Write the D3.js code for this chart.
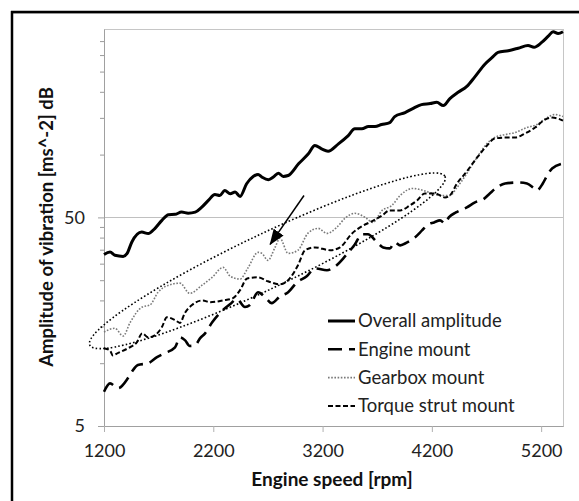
<!DOCTYPE html>
<html>
<head>
<meta charset="utf-8">
<script src="https://cdn.jsdelivr.net/npm/d3@7"></script>
<style>
body { margin: 0; background: #fff; }
svg { display: block; font-family: Lato, "Open Sans", sans-serif; }
</style>
</head>
<body>
<svg width="579" height="501"></svg>
<script>
// [rpm, amplitude]
var overall = [[1200,33.2],[1255,34.1],[1300,32.9],[1375,32.5],[1410,33.5],[1455,38.1],[1545,42.5],[1605,41.8],[1665,44.2],[1730,48.4],[1790,51.5],[1850,51.7],[1910,53.0],[1970,52.4],[2035,53.0],[2095,56.0],[2155,60.3],[2215,64.4],[2260,63.7],[2305,67.3],[2355,64.9],[2400,66.1],[2445,63.0],[2505,72.5],[2565,78.6],[2610,80.3],[2645,78.0],[2705,75.8],[2750,78.0],[2795,81.5],[2840,78.6],[2885,79.4],[2980,90.3],[3070,100.9],[3130,110.6],[3190,106.6],[3250,103.8],[3345,112.6],[3435,123.4],[3495,132.9],[3560,132.9],[3620,136.3],[3680,136.3],[3740,139.3],[3815,142.4],[3860,152.1],[3955,159.0],[4025,166.2],[4105,173.6],[4185,175.6],[4245,178.1],[4305,171.7],[4365,185.5],[4440,198.9],[4520,212.3],[4595,236.4],[4685,271.3],[4750,291.5],[4805,308.9],[4900,314.8],[4990,323.6],[5080,333.4],[5135,327.1],[5205,345.0],[5265,369.4],[5310,388.1],[5355,380.8],[5400,388]];

var engine = [[1200,7.3],[1255,8.0],[1330,7.6],[1420,8.5],[1455,9.1],[1510,9.8],[1605,10.0],[1685,10.7],[1760,11.2],[1850,11.9],[1895,13.3],[1940,12.9],[1985,12.1],[2035,12.2],[2080,13.2],[2125,13.9],[2190,15.7],[2260,17.4],[2355,19.2],[2415,20.3],[2490,18.6],[2535,19.0],[2610,21.9],[2675,20.7],[2735,19.4],[2810,20.9],[2885,21.9],[2965,24.4],[3055,26.1],[3130,28.5],[3240,27.9],[3315,29.1],[3405,32.5],[3495,37.1],[3560,41.5],[3615,41.5],[3690,38.4],[3755,35.9],[3815,35.5],[3860,38.0],[3910,36.7],[3955,37.5],[4045,40.1],[4110,43.3],[4165,46.3],[4220,47.3],[4275,48.4],[4320,46.8],[4355,50.0],[4420,52.8],[4520,55.8],[4595,59.0],[4670,61.0],[4730,65.1],[4795,69.6],[4870,72.7],[4990,73.5],[5070,72.7],[5125,69.6],[5160,67.3],[5215,72.7],[5255,79.4],[5300,85.8],[5400,90.7]];

var gearbox = [[1200,14.1],[1300,14.7],[1375,13.5],[1440,15.7],[1550,18.6],[1620,19.0],[1695,21.9],[1785,23.6],[1895,24.2],[1985,21.6],[2095,23.6],[2190,25.8],[2290,28.8],[2355,26.1],[2445,25.3],[2515,28.5],[2610,34.0],[2645,33.6],[2700,31.1],[2765,35.9],[2810,39.7],[2885,33.6],[2975,34.8],[3065,41.9],[3160,44.3],[3240,41.9],[3330,44.8],[3405,49.5],[3495,52.3],[3590,50.0],[3660,47.3],[3745,54.0],[3835,57.1],[3910,63.7],[4025,68.8],[4090,68.0],[4210,65.1],[4275,63.7],[4365,63.7],[4430,69.6],[4520,81.2],[4595,93.7],[4705,113.0],[4775,120.7],[4870,124.7],[4960,127.5],[5070,134.8],[5160,139.3],[5255,150.4],[5325,155.6],[5400,152.1]];

var torque = [[1200,11.8],[1255,11.5],[1280,10.9],[1330,11.2],[1420,11.8],[1500,12.6],[1550,13.9],[1605,13.3],[1665,13.6],[1730,14.9],[1775,16.6],[1850,16.1],[1895,15.6],[1940,17.4],[2005,19.0],[2105,20.0],[2170,19.6],[2290,20.0],[2380,20.5],[2445,22.4],[2510,25.5],[2610,25.8],[2700,24.7],[2810,23.9],[2900,25.5],[2975,29.5],[3040,34.8],[3130,35.9],[3270,34.8],[3360,35.9],[3470,41.9],[3560,45.3],[3650,47.9],[3745,51.1],[3815,54.0],[3910,54.0],[4000,57.1],[4065,60.3],[4135,65.1],[4230,65.1],[4320,62.3],[4365,63.7],[4430,72.7],[4505,81.2],[4615,96.9],[4705,110.6],[4775,119.4],[4870,120.7],[4960,120.7],[5050,126.1],[5145,134.8],[5235,147.2],[5300,150.4],[5355,148.8],[5400,145.5]];

var seriesNames = ["Overall amplitude", "Engine mount", "Gearbox mount", "Torque strut mount"];
var xTicks = [1200, 2200, 3200, 4200, 5200];
var yTicks = [5, 50];
var yMinor = [10, 15, 20, 25, 30, 35, 40, 45, 100, 150, 200, 250, 300, 350];

// annotation: ends of the dotted ellipse and the arrow, in data units
var ellipseEnds = [[1070, 12.2], [4320, 78.6]];
var arrowEnds = [[3030, 63.7], [2720, 37.1]];

var svg = d3.select("svg"),
    margin = {top: 29, right: 16, bottom: 75, left: 104},
    width = 579 - margin.left - margin.right,
    height = 501 - margin.top - margin.bottom,
    g = svg.append("g").attr("transform", "translate(" + margin.left + "," + margin.top + ")");

// outer frame (only left and top show)
svg.append("line").attr("x1", 12).attr("x2", 579).attr("y1", 13.5).attr("y2", 13.5)
    .attr("stroke", "#c8c8c8").attr("stroke-width", 1);
svg.append("line").attr("x1", 11).attr("x2", 579).attr("y1", 12).attr("y2", 12)
    .attr("stroke", "#000").attr("stroke-width", 2.5);
svg.append("line").attr("x1", 12).attr("x2", 12).attr("y1", 11).attr("y2", 501)
    .attr("stroke", "#000").attr("stroke-width", 2.5);

var x = d3.scaleLinear()
    .domain([1200, 5400])
    .range([0, width]);

var y = d3.scaleLog()
    .domain([5, 400])
    .range([height, 0]);

g.append("rect")
    .attr("x", 0.5).attr("y", 0.5)
    .attr("width", width).attr("height", height)
    .attr("fill", "none")
    .attr("stroke", "#c6c6c6");

g.append("line")
    .attr("x1", 0).attr("x2", width)
    .attr("y1", Math.round(y(50)) + 0.5).attr("y2", Math.round(y(50)) + 0.5)
    .attr("stroke", "#c0c0c0");

var yMinorAxis = g.append("g")
    .call(d3.axisLeft(y).tickValues(yMinor).tickSize(4).tickSizeOuter(0).tickFormat(""));
yMinorAxis.select(".domain").remove();
yMinorAxis.selectAll("line").attr("stroke", "#9a9a9a");

var yAxis = g.append("g")
    .call(d3.axisLeft(y).tickValues(yTicks).tickSize(6).tickSizeOuter(0).tickFormat(d3.format("d")));
yAxis.select(".domain").attr("stroke", "#a0a0a0");
yAxis.selectAll(".tick line").attr("stroke", "#a0a0a0");
yAxis.selectAll("text")
    .attr("x", -19)
    .attr("fill", "#222")
    .style("font-size", "18px")
    .style("font-family", "Lato, sans-serif");

var xAxis = g.append("g")
    .attr("transform", "translate(0," + height + ")")
    .call(d3.axisBottom(x).tickValues(xTicks).tickSize(6).tickSizeOuter(0).tickFormat(d3.format("d")));
xAxis.select(".domain").attr("stroke", "#a0a0a0");
xAxis.selectAll(".tick line").attr("stroke", "#b0b0b0");
xAxis.selectAll("text")
    .attr("y", 18)
    .attr("fill", "#222")
    .style("font-size", "18px")
    .style("font-family", "Lato, sans-serif");

svg.append("text")
    .attr("x", 332)
    .attr("y", 486)
    .attr("text-anchor", "middle")
    .style("font-size", "19px")
    .style("font-weight", "bold")
    .attr("fill", "#111")
    .text("Engine speed [rpm]");

svg.append("text")
    .attr("transform", "translate(53,227) rotate(-90)")
    .attr("text-anchor", "middle")
    .style("font-size", "18.5px")
    .style("font-weight", "bold")
    .attr("fill", "#111")
    .text("Amplitude of vibration [ms^-2] dB");

var line = d3.line()
    .curve(d3.curveMonotoneX)
    .x(function(d) { return x(d[0]); })
    .y(function(d) { return y(d[1]); });

var styles = [
  {data: overall, color: "#000", w: 3, dash: null},
  {data: engine, color: "#000", w: 2.6, dash: "14,7"},
  {data: gearbox, color: "#7a7a7a", w: 1.6, dash: "1.6,1.6"},
  {data: torque, color: "#000", w: 2, dash: "5,2.5"}
];

// back to front, solid line last
[2, 3, 1, 0].forEach(function(i) {
  var s = styles[i];
  g.append("path")
      .datum(s.data)
      .attr("fill", "none")
      .attr("stroke", s.color)
      .attr("stroke-width", s.w)
      .attr("stroke-dasharray", s.dash)
      .attr("stroke-linejoin", "round")
      .attr("d", line);
});

// dotted ellipse
var p0 = [x(ellipseEnds[0][0]), y(ellipseEnds[0][1])],
    p1 = [x(ellipseEnds[1][0]), y(ellipseEnds[1][1])],
    cx = (p0[0] + p1[0]) / 2,
    cy = (p0[1] + p1[1]) / 2,
    rx = Math.hypot(p1[0] - p0[0], p1[1] - p0[1]) / 2,
    ang = Math.atan2(p1[1] - p0[1], p1[0] - p0[0]) * 180 / Math.PI;
g.append("ellipse")
    .attr("transform", "translate(" + cx + "," + cy + ") rotate(" + ang + ")")
    .attr("rx", rx)
    .attr("ry", 27)
    .attr("fill", "none")
    .attr("stroke", "#000")
    .attr("stroke-width", 1.6)
    .attr("stroke-dasharray", "1.6,2.2");

// arrow
svg.append("defs").append("marker")
    .attr("id", "head")
    .attr("markerUnits", "userSpaceOnUse")
    .attr("viewBox", "0 0 16 12")
    .attr("refX", 15).attr("refY", 6)
    .attr("markerWidth", 16).attr("markerHeight", 12)
    .attr("orient", "auto")
  .append("path")
    .attr("d", "M0,0L16,6L0,12Z")
    .attr("fill", "#000");

g.append("line")
    .attr("x1", x(arrowEnds[0][0])).attr("y1", y(arrowEnds[0][1]))
    .attr("x2", x(arrowEnds[1][0])).attr("y2", y(arrowEnds[1][1]))
    .attr("stroke", "#000")
    .attr("stroke-width", 1.5)
    .attr("marker-end", "url(#head)");

// legend
var legend = g.append("g").attr("transform", "translate(224,292)");
seriesNames.forEach(function(name, i) {
  var s = styles[i];
  var row = legend.append("g").attr("transform", "translate(0," + (i * 28.3) + ")");
  row.append("line")
      .attr("x1", 0).attr("x2", 27)
      .attr("stroke", s.color)
      .attr("stroke-width", s.w)
      .attr("stroke-dasharray", s.dash);
  row.append("text")
      .attr("x", 30)
      .attr("dy", "0.35em")
      .attr("fill", "#222")
      .style("font-size", "18.5px")
      .text(name);
});
</script>
</body>
</html>
